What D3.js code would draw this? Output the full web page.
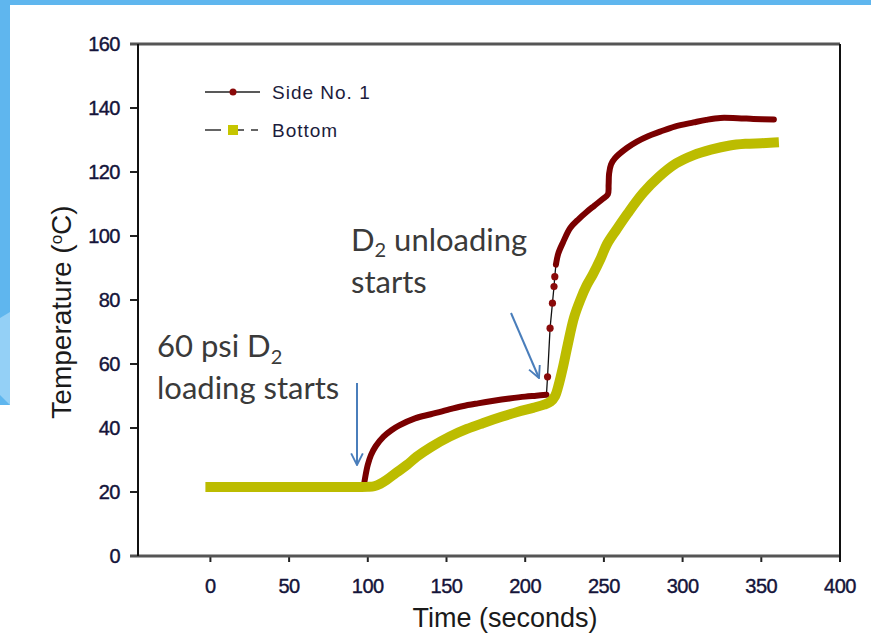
<!DOCTYPE html>
<html>
<head>
<meta charset="utf-8">
<script src="https://d3js.org/d3.v7.min.js"></script>
<style>
  html, body { margin: 0; padding: 0; background: #fff; }
  #svg { width: 871px; height: 636px; display: block; }
</style>
</head>
<body>
<svg id="svg"></svg>
<script>
var svg;
var width;
var height;
var margin = { top: 44, right: 31, bottom: 80, left: 138 };
var x, y;

// Side No. 1, before the D2 unloading jump
var sideTimeA = [97.5, 98.5, 100, 102, 105, 110, 115, 120, 130, 140, 150, 160, 170, 180, 190, 200, 207, 213.5];
var sideTempA = [22, 25, 28.5, 31.5, 34.3, 37.3, 39.3, 40.8, 43.0, 44.3, 45.6, 46.8, 47.7, 48.5, 49.2, 49.8, 50.1, 50.4];
// sparse readings during the jump
var sideJumpTime = [214.2, 215.8, 217.3, 218.3, 218.8];
var sideJumpTemp = [56, 71.2, 79, 84.2, 87.3];
// after the jump
var sideTimeB = [219.5, 221, 224, 228.6, 234, 239, 244, 249, 252.5, 253, 253.3, 254.5, 257, 264.6, 271, 278, 285.7, 295, 307, 315, 324, 335, 345, 358];
var sideTempB = [91, 94.5, 98, 102.5, 105.3, 107.5, 109.5, 111.5, 113, 116, 119.5, 122.3, 124.3, 127.5, 129.5, 131.2, 132.6, 134.2, 135.5, 136.3, 136.9, 136.8, 136.6, 136.4];

// Bottom
var bottomTime = [0, 20, 40, 60, 80, 100, 104, 108, 112, 118, 125, 131, 140, 152, 163, 173, 185, 195, 205, 212, 216, 219, 221, 224, 227, 231, 235, 239, 243, 248, 252, 258, 265, 275, 285, 296, 307, 318, 330, 340, 350, 358];
var bottomTemp = [21.6, 21.6, 21.6, 21.6, 21.6, 21.6, 21.8, 22.6, 23.8, 26, 28.5, 31, 34, 37.3, 39.7, 41.5, 43.5, 45, 46.3, 47.3, 48.2, 50, 53, 59, 66, 74.5, 80, 84.5, 88, 93, 97.5, 102, 107, 113.5, 118.5, 122.7, 125.3, 127, 128.3, 128.8, 129, 129.2];

var xTicks = [0, 50, 100, 150, 200, 250, 300, 350, 400];
var yTicks = [0, 20, 40, 60, 80, 100, 120, 140, 160];

var legendNames = ['Side No. 1', 'Bottom'];

document.addEventListener('DOMContentLoaded', function() {
    svg = d3.select('#svg');
    width = 871;
    height = 636;

    x = d3.scaleLinear().domain([-46, 400]).range([margin.left, width - margin.right]);
    y = d3.scaleLinear().domain([0, 160]).range([height - margin.bottom, margin.top]);

    drawBackground();
    drawAxes();
    drawSeries();
    drawLegend();
    drawNotes();
});

function drawBackground() {
    svg.append('rect').attr('x', 0).attr('y', 0).attr('width', width).attr('height', 5).style('fill', '#5fb6ee');
    svg.append('rect').attr('x', 0).attr('y', 0).attr('width', 10).attr('height', 405).style('fill', '#5fb6ee');
    svg.append('path').attr('d', 'M0,318 L10,312 L10,405 L0,395 Z').style('fill', '#94d0f6');
}

function drawAxes() {
    var x0 = x.range()[0], x1 = x.range()[1];
    var y0 = y.range()[0], y1 = y.range()[1];

    var g = svg.append('g');

    // y ticks
    g.selectAll('.ytick')
     .data(yTicks)
     .enter()
     .append('line')
     .attr('x1', x0 - 8)
     .attr('x2', x0)
     .attr('y1', function(d) { return y(d); })
     .attr('y2', function(d) { return y(d); })
     .style('stroke', '#222')
     .style('stroke-width', 2);

    g.selectAll('.ylab')
     .data(yTicks)
     .enter()
     .append('text')
     .attr('x', x0 - 18)
     .attr('y', function(d) { return y(d) + 7; })
     .attr('text-anchor', 'end')
     .style('font-family', 'Liberation Sans, Arial, sans-serif')
     .style('font-size', '20px')
     .style('letter-spacing', '-0.5px')
     .style('fill', '#14143a')
     .style('stroke', '#14143a')
     .style('stroke-width', 0.4)
     .text(function(d) { return d; });

    // x ticks
    g.selectAll('.xtick')
     .data(xTicks)
     .enter()
     .append('line')
     .attr('x1', function(d) { return x(d); })
     .attr('x2', function(d) { return x(d); })
     .attr('y1', y0)
     .attr('y2', y0 + 6)
     .style('stroke', '#222')
     .style('stroke-width', 2);

    g.selectAll('.xlab')
     .data(xTicks)
     .enter()
     .append('text')
     .attr('x', function(d) { return x(d); })
     .attr('y', y0 + 37)
     .attr('text-anchor', 'middle')
     .style('font-family', 'Liberation Sans, Arial, sans-serif')
     .style('font-size', '20px')
     .style('letter-spacing', '-0.5px')
     .style('fill', '#14143a')
     .style('stroke', '#14143a')
     .style('stroke-width', 0.4)
     .text(function(d) { return d; });

    // frame
    g.append('line').attr('x1', x0 - 8).attr('x2', x1).attr('y1', y1).attr('y2', y1)
     .style('stroke', '#555').style('stroke-width', 3);
    g.append('line').attr('x1', x0 - 8).attr('x2', x1).attr('y1', y0).attr('y2', y0)
     .style('stroke', '#555').style('stroke-width', 3);
    g.append('line').attr('x1', x0).attr('x2', x0).attr('y1', y1).attr('y2', y0)
     .style('stroke', '#111').style('stroke-width', 2);
    g.append('line').attr('x1', x1).attr('x2', x1).attr('y1', y1).attr('y2', y0 + 6)
     .style('stroke', '#111').style('stroke-width', 2);

    // titles
    var yt = svg.append('text')
     .attr('transform', 'translate(71,' + (y(80) + 12) + ') rotate(-90)')
     .attr('text-anchor', 'middle')
     .style('font-family', 'Liberation Sans, Arial, sans-serif')
     .style('font-size', '28px')
     .style('fill', '#1a1a1a');
    yt.append('tspan').text('Temperature (');
    yt.append('tspan').attr('baseline-shift', 'super').style('font-size', '17px').text('o');
    yt.append('tspan').text('C)');

    svg.append('text')
     .attr('x', 505)
     .attr('y', 627)
     .attr('text-anchor', 'middle')
     .style('font-family', 'Liberation Sans, Arial, sans-serif')
     .style('font-size', '27px')
     .style('fill', '#1a1a1a')
     .text('Time (seconds)');
}

function zipPts(ts, vs) {
    return ts.map(function(t, i) { return [t, vs[i]]; });
}

function drawSeries() {
    var line = d3.line()
                 .x(function(d) { return x(d[0]); })
                 .y(function(d) { return y(d[1]); });
    var smooth = d3.line()
                 .curve(d3.curveCatmullRom.alpha(0.5))
                 .x(function(d) { return x(d[0]); })
                 .y(function(d) { return y(d[1]); });

    var sideA = zipPts(sideTimeA, sideTempA);
    var sideJ = zipPts(sideJumpTime, sideJumpTemp);
    var sideB = zipPts(sideTimeB, sideTempB);
    var bottom = zipPts(bottomTime, bottomTemp);

    var g = svg.append('g');

    // thin black connecting line of Side No. 1
    g.append('path')
     .attr('d', line([[97.5, 21.6]].concat(sideA, sideJ, sideB)))
     .style('fill', 'none')
     .style('stroke', '#111')
     .style('stroke-width', 1.3);

    // dense marker runs drawn as a thick stroke
    [sideA, sideB].forEach(function(pts) {
        g.append('path')
         .attr('d', smooth(pts))
         .style('fill', 'none')
         .style('stroke', '#7a0000')
         .style('stroke-width', 6)
         .style('stroke-linejoin', 'round')
         .style('stroke-linecap', 'round');
    });

    g.selectAll('.jump')
     .data(sideJ)
     .enter()
     .append('circle')
     .attr('cx', function(d) { return x(d[0]); })
     .attr('cy', function(d) { return y(d[1]); })
     .attr('r', 3.6)
     .style('fill', '#8a0a0a');

    // Bottom
    g.append('path')
     .attr('d', smooth(bottom))
     .style('fill', 'none')
     .style('stroke', '#bcbc00')
     .style('stroke-width', 10)
     .style('stroke-linejoin', 'round')
     .style('stroke-linecap', 'square');
}

function drawLegend() {
    var g = svg.append('g');
    var rows = [92, 130];

    g.append('line').attr('x1', 205).attr('x2', 260).attr('y1', rows[0]).attr('y2', rows[0])
     .style('stroke', '#222').style('stroke-width', 1.5);
    g.append('circle').attr('cx', 233).attr('cy', rows[0]).attr('r', 3.5).style('fill', '#8a0a0a');

    g.append('line').attr('x1', 205).attr('x2', 258).attr('y1', rows[1]).attr('y2', rows[1])
     .style('stroke', '#333').style('stroke-width', 1.5).style('stroke-dasharray', '16,7');
    g.append('rect').attr('x', 228).attr('y', rows[1] - 5).attr('width', 10).attr('height', 10)
     .style('fill', '#c6c600');

    g.selectAll('.ltext')
     .data(legendNames)
     .enter()
     .append('text')
     .attr('x', 272)
     .attr('y', function(d, i) { return rows[i] + 7; })
     .style('font-family', 'Liberation Sans, Arial, sans-serif')
     .style('font-size', '19px')
     .style('letter-spacing', '1px')
     .style('fill', '#1c1c3c')
     .text(function(d) { return d; });
}

function drawNotes() {
    var defs = svg.append('defs');
    defs.append('marker')
        .attr('id', 'arrow')
        .attr('viewBox', '0 0 12 12')
        .attr('refX', 11)
        .attr('refY', 6)
        .attr('markerWidth', 7)
        .attr('markerHeight', 7)
        .attr('markerUnits', 'strokeWidth')
        .attr('orient', 'auto')
        .append('path')
        .attr('d', 'M1,1 L11,6 L1,11')
        .style('fill', 'none')
        .style('stroke', '#4a7ebb')
        .style('stroke-width', 1.6);

    svg.append('line').attr('x1', 357).attr('y1', 383).attr('x2', 357).attr('y2', 465)
       .style('stroke', '#4a7ebb').style('stroke-width', 2).attr('marker-end', 'url(#arrow)');
    svg.append('line').attr('x1', 511).attr('y1', 313).attr('x2', 539).attr('y2', 378)
       .style('stroke', '#4a7ebb').style('stroke-width', 2).attr('marker-end', 'url(#arrow)');

    var font = 'Lato, Carlito, Calibri, sans-serif';

    var t1 = svg.append('text').attr('x', 157).attr('y', 357)
       .style('font-family', font).style('font-size', '31px').style('fill', '#3a3a3a');
    t1.append('tspan').text('60 psi D');
    t1.append('tspan').attr('dy', 7).style('font-size', '20px').text('2');
    svg.append('text').attr('x', 157).attr('y', 399)
       .style('font-family', font).style('font-size', '31px').style('fill', '#3a3a3a')
       .text('loading starts');

    var t2 = svg.append('text').attr('x', 351).attr('y', 251)
       .style('font-family', font).style('font-size', '31px').style('fill', '#3a3a3a');
    t2.append('tspan').text('D');
    t2.append('tspan').attr('dy', 6).style('font-size', '20px').text('2');
    t2.append('tspan').attr('dy', -6).text(' unloading');
    svg.append('text').attr('x', 351).attr('y', 293)
       .style('font-family', font).style('font-size', '31px').style('fill', '#3a3a3a')
       .text('starts');
}
</script>
</body>
</html>
